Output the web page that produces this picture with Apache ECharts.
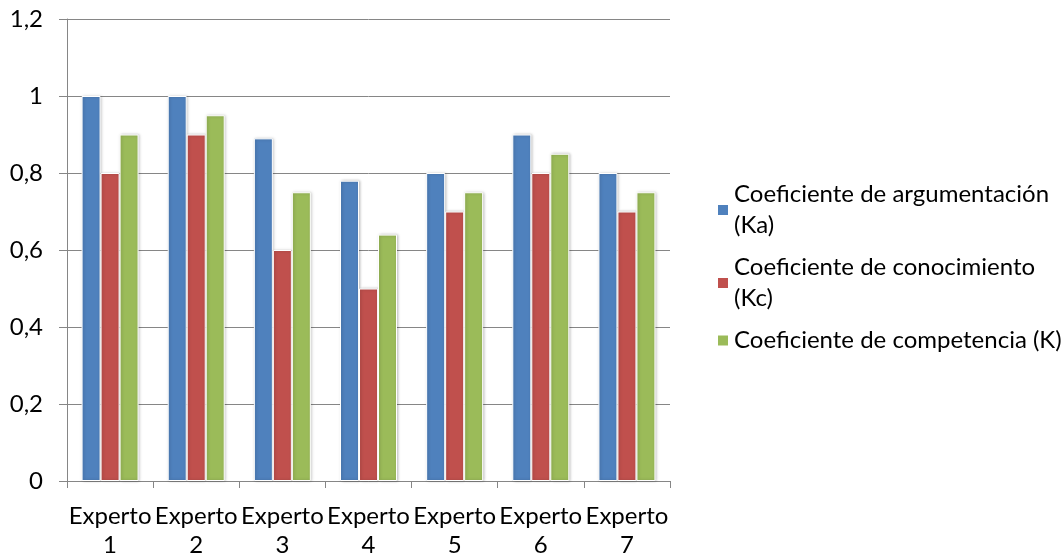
<!DOCTYPE html>
<html>
<head>
<meta charset="utf-8">
<script src="https://cdn.jsdelivr.net/npm/echarts@6/dist/echarts.min.js"></script>
<style>
  html, body { margin: 0; padding: 0; background: #fff; }
  #chart { width: 1063px; height: 558px; }
</style>
</head>
<body>
<div id="chart"></div>
<script>
// datos del gráfico
const categories = ["Experto 1", "Experto 2", "Experto 3", "Experto 4", "Experto 5", "Experto 6", "Experto 7"];
const seriesNames = [
  "Coeficiente de argumentación (Ka)",
  "Coeficiente de conocimiento (Kc)",
  "Coeficiente de competencia (K)"
];
const ka = [1, 1, 0.89, 0.78, 0.8, 0.9, 0.8];
const kc = [0.8, 0.9, 0.6, 0.5, 0.7, 0.8, 0.7];
const k = [0.9, 0.95, 0.75, 0.64, 0.75, 0.85, 0.75];
const colors = ["#4F81BD", "#C0504D", "#9BBB59"];

const font = "Lato, 'Open Sans', sans-serif";
const axisGrey = "#868686";

const myChart = echarts.init(document.getElementById("chart"));

function bar(name, data, color) {
  return {
    name: name,
    type: "bar",
    data: data,
    barWidth: 19,
    barGap: "0%",
    itemStyle: {
      color: color,
      borderColor: "#fff",
      borderWidth: 1,
      shadowColor: "rgba(0,0,0,0.25)",
      shadowBlur: 3,
      shadowOffsetX: 1
    }
  };
}

const option = {
  animation: false,
  color: colors,
  grid: { left: 67, right: 393, top: 19, bottom: 77, containLabel: false, outerBoundsMode: "none" },
  legend: {
    orient: "vertical",
    left: 711,
    top: 174,
    icon: "rect",
    itemWidth: 12,
    itemHeight: 12,
    itemGap: 11,
    data: seriesNames,
    formatter: function (name) {
      // como en el original, las dos primeras entradas ocupan dos líneas
      if (name.indexOf("competencia") >= 0) return name;
      return name.replace(/ \(/, "\n(");
    },
    textStyle: { fontFamily: font, fontSize: 24, color: "#000", lineHeight: 31 }
  },
  xAxis: {
    type: "category",
    data: categories,
    axisLine: { lineStyle: { color: axisGrey, width: 1 } },
    axisTick: { show: true, length: 7, lineStyle: { color: axisGrey } },
    axisLabel: {
      interval: 0,
      margin: 21,
      fontFamily: font,
      fontSize: 24,
      color: "#000",
      lineHeight: 29,
      formatter: function (v) { return v.replace(" ", "\n"); }
    }
  },
  yAxis: {
    type: "value",
    min: 0,
    max: 1.2,
    interval: 0.2,
    axisLine: { show: true, lineStyle: { color: axisGrey, width: 1 } },
    axisTick: { show: true, length: 8, lineStyle: { color: axisGrey } },
    splitLine: { lineStyle: { color: axisGrey, width: 1 } },
    axisLabel: {
      margin: 24,
      fontFamily: font,
      fontSize: 24,
      color: "#000",
      formatter: function (v) { return String(+v.toFixed(1)).replace(".", ","); }
    }
  },
  series: [
    bar(seriesNames[0], ka, colors[0]),
    bar(seriesNames[1], kc, colors[1]),
    bar(seriesNames[2], k, colors[2])
  ]
};

myChart.setOption(option);
</script>
</body>
</html>
